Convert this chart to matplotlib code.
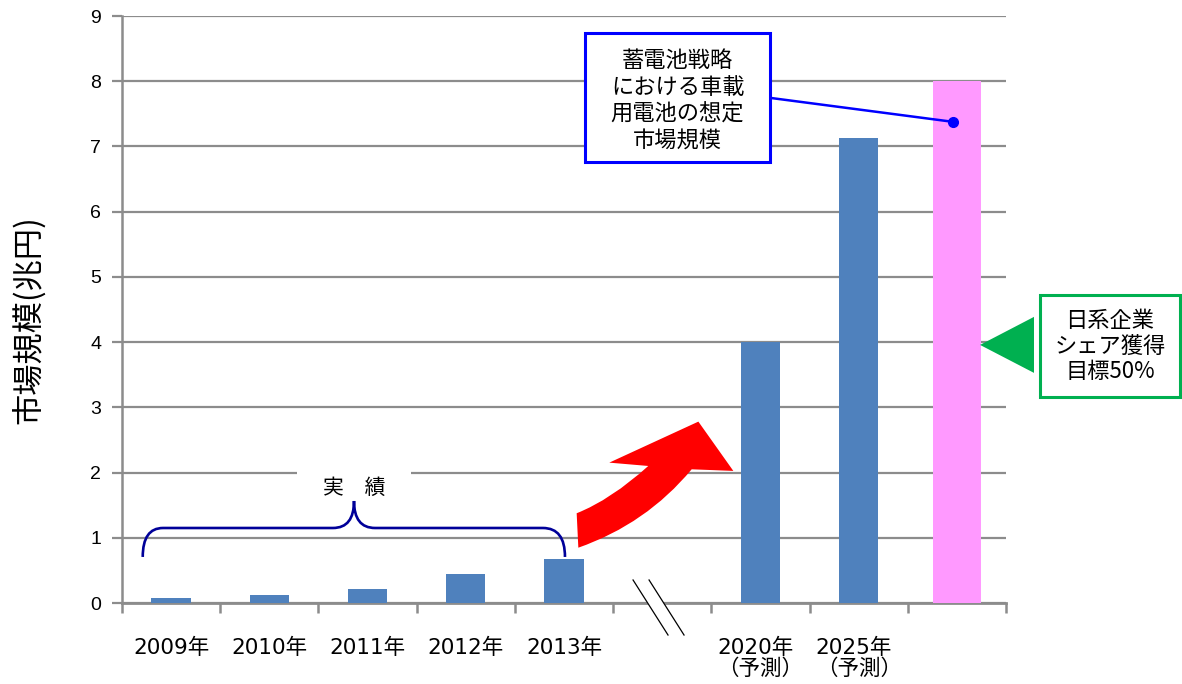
import matplotlib
matplotlib.use("Agg")
import matplotlib.pyplot as plt
from matplotlib.patches import Rectangle, Polygon, PathPatch
from matplotlib.path import Path

plt.rcParams['font.family'] = ['Noto Sans CJK JP', 'DejaVu Sans']

# ---- data ----
categories = ['2009年', '2010年', '2011年', '2012年', '2013年', '',
              '2020年\n（予測）', '2025年\n（予測）', '']
actual_values = [0.08, 0.13, 0.21, 0.44, 0.67, None, 4.0, 7.13, None]
target_value = 8.0
y_ticks = [0, 1, 2, 3, 4, 5, 6, 7, 8, 9]

BLUE = '#4F81BD'
PINK = '#FF99FF'
GRID = '#8C8C8C'

fig = plt.figure(figsize=(11.82, 6.84), dpi=100)
ax = fig.add_axes([122/1182, 1-603/684, (1006-122)/1182, (603-16)/684])

xs = list(range(len(categories)))
for x, v in zip(xs, actual_values):
    if v is not None:
        ax.bar(x, v, width=0.40, color=BLUE, zorder=3)
ax.bar(8, target_value, width=0.49, color=PINK, zorder=3)

ax.set_xlim(-0.5, 8.5)
ax.set_ylim(0, 9)
ax.set_yticks(y_ticks)
ax.set_yticklabels([str(t) for t in y_ticks], fontsize=14,
                   family=['Liberation Sans', 'DejaVu Sans'])
ax.yaxis.grid(True, color=GRID, linewidth=1.6, zorder=0)
ax.set_axisbelow(True)

ax.set_xticks(xs)
ax.set_xticklabels(categories, fontsize=15.5, multialignment='left',
                   linespacing=1.0,
                   family=['DejaVu Sans', 'Noto Sans CJK JP'])
ax.tick_params(axis='x', length=0, pad=25)
ax.set_xticks([i - 0.5 for i in range(10)], minor=True)
ax.tick_params(axis='x', which='minor', length=7, width=1.8, color=GRID,
               direction='out')
ax.tick_params(axis='y', length=7, width=1.6, color=GRID, pad=8)

for s in ['top', 'right']:
    ax.spines[s].set_visible(False)
ax.spines['left'].set_color(GRID)
ax.spines['left'].set_linewidth(1.8)
ax.spines['bottom'].set_color(GRID)
ax.spines['bottom'].set_linewidth(2.0)

fig.text(28/1182, 1-320/684, '市場規模(兆円)', rotation=90, fontsize=22.5,
         ha='center', va='center')

# ---- axis break marks ----
brk = Polygon([(4.703, 0.353), (5.059, -0.491), (5.222, -0.491), (4.866, 0.353)],
              closed=True, facecolor='white', edgecolor='none', zorder=5,
              clip_on=False)
ax.add_patch(brk)
ax.plot([4.703, 5.059], [0.353, -0.491], color='black', lw=0.9, zorder=6, clip_on=False)
ax.plot([4.866, 5.222], [0.353, -0.491], color='black', lw=0.9, zorder=6, clip_on=False)

# ---- brace + 実績 ----
ax.add_patch(Rectangle((1.28, 1.85), 1.16, 0.3, facecolor='white',
                       edgecolor='none', zorder=1))
ax.text(1.862, 1.77, '実\u2002\u2002績', fontsize=15, ha='center', va='center', zorder=4)
bv = [(-0.289, 0.706), (-0.289, 1.150), (-0.083, 1.150),
      (1.648, 1.150),
      (1.862, 1.150), (1.862, 1.564),
      (1.862, 1.150), (2.076, 1.150),
      (3.786, 1.150),
      (4.010, 1.150), (4.010, 0.706)]
bc = [Path.MOVETO, Path.CURVE3, Path.CURVE3, Path.LINETO,
      Path.CURVE3, Path.CURVE3, Path.CURVE3, Path.CURVE3,
      Path.LINETO, Path.CURVE3, Path.CURVE3]
ax.add_patch(PathPatch(Path(bv, bc), facecolor='none', edgecolor='#000099',
                       lw=1.9, zorder=4))

# ---- red curved arrow ----
av = [(4.129, 1.376), (4.479, 1.585), (4.858, 2.101),
      (4.461, 2.152), (5.368, 2.781), (5.724, 2.025), (5.300, 2.050),
      (4.838, 1.212), (4.146, 0.848), (4.129, 1.376)]
ac = [Path.MOVETO, Path.CURVE3, Path.CURVE3,
      Path.LINETO, Path.LINETO, Path.LINETO, Path.LINETO,
      Path.CURVE3, Path.CURVE3, Path.CLOSEPOLY]
ax.add_patch(PathPatch(Path(av, ac), facecolor='#FF0000', edgecolor='none',
                       zorder=4))

# ---- blue callout ----
ax.plot([6.097, 7.961], [7.745, 7.377], color='#0000FF', lw=1.8, zorder=5)
ax.plot([7.961], [7.377], 'o', color='#0000FF', ms=7, zorder=6)
ax.add_patch(Rectangle((4.214, 6.764), 6.097-4.214, 8.742-6.764,
                       facecolor='white', edgecolor='#0000FF', lw=2.2, zorder=5))
ax.text(5.156, 7.70, '蓄電池戦略\nにおける車載\n用電池の想定\n市場規模',
        fontsize=16, ha='center', va='center', linespacing=1.22, zorder=6)

# ---- green callout ----
ax.add_patch(Polygon([(8.236, 3.957), (8.785, 4.387), (8.785, 3.528)],
                     closed=True, facecolor='#00B050', edgecolor='none',
                     zorder=5, clip_on=False))
ax.add_patch(Rectangle((8.846, 3.160), 10.272-8.846, 4.724-3.160,
                       facecolor='white', edgecolor='#00B050', lw=2.2,
                       zorder=5, clip_on=False))
ax.text(9.559, 3.94, '日系企業\nシェア獲得\n目標50%', fontsize=16,
        ha='center', va='center', linespacing=1.15, zorder=6, clip_on=False)

fig.savefig('out.png', dpi=100)
